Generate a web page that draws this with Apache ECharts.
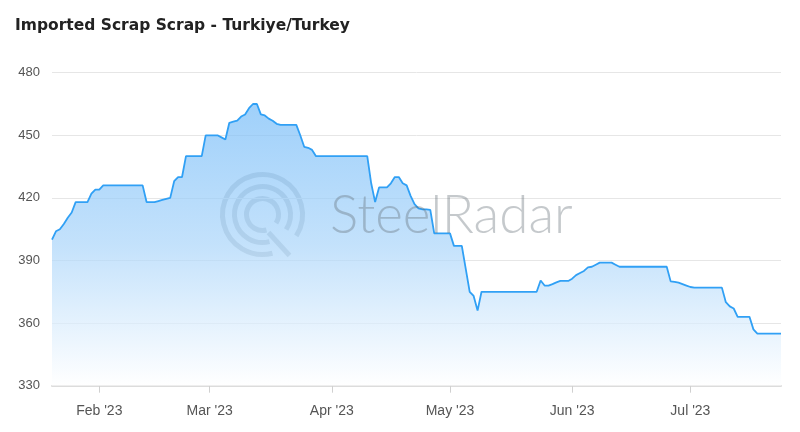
<!DOCTYPE html>
<html>
<head>
<meta charset="utf-8">
<script src="https://cdn.jsdelivr.net/npm/echarts@6/dist/echarts.min.js"></script>
<style>
html,body{margin:0;padding:0;background:#fff;}
#chart{width:800px;height:432px;}
</style>
</head>
<body>
<div id="chart"></div>
<script>
// Daily series starting 2023-01-20
const startDate = '2023-01-20';
const prices = [
  400,404,405,407.5,410.5,413,418,418,418,418,
  422,424,424,426,426,426,426,426,426,426,
  426,426,426,426,418,418,418,418.5,419,419.5,
  420,428,430,430,440,440,440,440,440,450,
  450,450,450,449,448,456,456.5,457,459,460,
  463,465,465,460,459.5,458,457,455.5,455,455,
  455,455,455,450,444.5,444,443,440,440,440,
  440,440,440,440,440,440,440,440,440,440,
  440,427,418,425,425,425,427,430,430,427,
  426,421,417,415,414.5,414.5,414.3,403,403,403,
  403,403,397,397,397,386,375,373,366,375,
  375,375,375,375,375,375,375,375,375,375,
  375,375,375,375,380.4,378,378,378.7,379.5,380.2,
  380.2,380.2,381.3,383,384,385,386.7,387,388,389,
  389,389,389,388,387,387,387,387,387,387,
  387,387,387,387,387,387,387,380,379.8,379.4,
  378.7,378,377.3,377,377,377,377,377,377,377,
  377,370,368,367,363,363,363,363,357,355,
  355,355,355,355,355,355
];
const yTicks = [330, 360, 390, 420, 450, 480];
const monthNames = ['Jan','Feb','Mar','Apr','May','Jun','Jul','Aug','Sep','Oct','Nov','Dec'];
const titleText = 'Imported Scrap Scrap - Turkiye/Turkey';

// build date categories
const dates = [];
(function(){
  const d0 = new Date(startDate + 'T00:00:00Z');
  for (let i = 0; i < prices.length; i++) {
    const d = new Date(d0.getTime() + i * 86400000);
    dates.push(d.toISOString().slice(0,10));
  }
})();
const isMonthStart = (idx, val) => dates[idx].slice(8,10) === '01';

const chart = echarts.init(document.getElementById('chart'), null, {renderer:'canvas'});
const wm = 'rgba(95,105,115,0.36)';
chart.setOption({
  animation: false,
  backgroundColor: '#ffffff',
  title: {
    text: titleText,
    left: 10, top: 13,
    textStyle: {fontFamily: '"DejaVu Sans", Verdana, sans-serif', fontSize: 15.5, fontWeight: 'bold', color: '#222'}
  },
  grid: {left: 52, right: 19, top: 72.7, bottom: 46.3, containLabel: false},
  xAxis: {
    type: 'category',
    data: dates,
    boundaryGap: false,
    axisLine: {lineStyle: {color: '#dcdcdc', width: 2}},
    axisTick: {show: true, interval: isMonthStart, length: 7, lineStyle: {color: '#d0d0d0', width: 1}},
    axisLabel: {
      interval: isMonthStart,
      margin: 18,
      color: '#555',
      fontFamily: 'Liberation Sans, Arial, sans-serif',
      fontSize: 14,
      formatter: v => monthNames[parseInt(v.slice(5,7),10)-1] + " '" + v.slice(2,4)
    },
    splitLine: {show: false}
  },
  yAxis: {
    type: 'value',
    min: yTicks[0], max: yTicks[yTicks.length-1], interval: 30,
    axisLine: {show: false},
    axisTick: {show: false},
    axisLabel: {color: '#555', fontFamily: 'Liberation Sans, Arial, sans-serif', fontSize: 13, margin: 12},
    splitLine: {lineStyle: {color: '#e6e6e6', width: 1}}
  },
  series: [{
    type: 'line',
    data: prices,
    symbol: 'none',
    lineStyle: {color: '#30a0f5', width: 1.8},
    itemStyle: {color: '#30a0f5'},
    areaStyle: {
      color: new echarts.graphic.LinearGradient(0, 0, 0, 1, [
        {offset: 0, color: 'rgb(118,188,248)'},
        {offset: 0.5, color: 'rgb(170,213,250)'},
        {offset: 1, color: 'rgb(255,255,255)'}
      ]),
      origin: 'start'
    }
  }],
  graphic: [
    {type: 'group', left: 220, top: 172, z: 100, silent: true, children: [
      {type: 'arc', shape: {cx: 43, cy: 43, r: 40, startAngle: Math.PI*0.42, endAngle: Math.PI*2.18}, style: {stroke: wm, lineWidth: 5, fill: null}},
      {type: 'arc', shape: {cx: 43, cy: 43, r: 28, startAngle: Math.PI*0.42, endAngle: Math.PI*2.18}, style: {stroke: wm, lineWidth: 5, fill: null}},
      {type: 'arc', shape: {cx: 43, cy: 43, r: 16, startAngle: Math.PI*0.42, endAngle: Math.PI*2.18}, style: {stroke: wm, lineWidth: 5, fill: null}},
      {type: 'line', shape: {x1: 49, y1: 61, x2: 70, y2: 84}, style: {stroke: wm, lineWidth: 5}}
    ]},
    {type: 'text', left: 330, top: 189, z: 100, silent: true,
     style: {text: 'SteelRadar', font: '300 53px "Lato", "Open Sans", sans-serif', fill: wm}}
  ]
});
</script>
</body>
</html>
